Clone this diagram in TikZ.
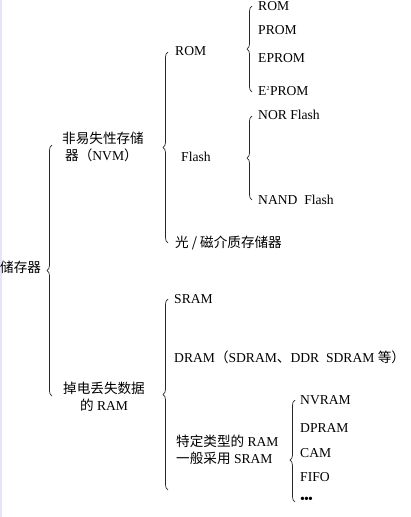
\documentclass[tikz,border=0pt]{standalone}
\usepackage{fontspec}
\setmainfont{Liberation Serif}
\newfontfamily\cjk{Noto Sans CJK SC}
\usetikzlibrary{decorations.pathreplacing}
\begin{document}
\begin{tikzpicture}[x=1pt,y=-1pt,
  lbl/.style={anchor=west,inner sep=0pt,font=\fontsize{13.6}{17}\selectfont},
  brc/.style={draw=black!85,line width=0.7pt,decorate,decoration={brace,amplitude=5pt}},
  brcb/.style={draw=black!85,line width=0.7pt,decorate,decoration={brace,amplitude=5pt,aspect=0.41}}]
\useasboundingbox (0,0) rectangle (411,517);
\fill[white] (0,0) rectangle (411,517);
\draw[draw=black!18!blue!10,line width=1.5pt] (0.75,0) -- (0.75,517);
% level 0
\node[lbl] (root) at (0,267) {\cjk 储存器};
% level 1
\node[lbl,align=left] (nvm) at (62,146.5) {{\cjk 非易失性存储}\\\hspace{3pt}{\cjk 器（}NVM{\cjk ）}};
\node[lbl,align=center] (ram) at (63,396.5) {{\cjk 掉电丢失数据}\\{\cjk 的} RAM};
% level 2 under NVM
\node[lbl] (rom) at (175,51) {ROM};
\node[lbl] (flash) at (181,157) {Flash};
\node[lbl] (opt) at (175,243) {{\cjk 光 / 磁介质存储器}};
% ROM children
\node[lbl] (rom1) at (258,6) {ROM};
\node[lbl] (prom) at (258,30.5) {PROM};
\node[lbl] (eprom) at (258,58) {EPROM};
\node[lbl] (e2prom) at (258,91) {E\textsuperscript{\fontsize{6}{6}\selectfont 2}PROM};
% Flash children
\node[lbl] (nor) at (258,115) {NOR Flash};
\node[lbl] (nand) at (258,200) {NAND\ \ Flash};
% level 2 under RAM
\node[lbl] (sram) at (174,299) {SRAM};
\node[lbl] (dram) at (174,357) {DRAM{\cjk （}SDRAM{\cjk 、}DDR\ \ SDRAM {\cjk 等）}};
\node[lbl,align=left] (spec) at (176,449.5) {{\cjk 特定类型的} RAM\\{\cjk 一般采用} SRAM};
% special RAM children
\node[lbl] (nvram) at (300,400) {NVRAM};
\node[lbl] (dpram) at (300,428) {DPRAM};
\node[lbl] (cam) at (300,453) {CAM};
\node[lbl] (fifo) at (300,477) {FIFO};
\node[lbl] (dots) at (300,500) {\fontsize{14}{14}\selectfont\textbullet\kern-1pt\textbullet\kern-1pt\textbullet};
% brace coordinates
\coordinate (b1s) at (52,396); \coordinate (b1e) at (52,145);
\coordinate (b2s) at (168,243); \coordinate (b2e) at (168,52);
\coordinate (b3s) at (252,92); \coordinate (b3e) at (252,6);
\coordinate (b4s) at (252,200); \coordinate (b4e) at (252,116);
\coordinate (b5s) at (168,490); \coordinate (b5e) at (168,299);
\coordinate (b6s) at (295,502); \coordinate (b6e) at (295,400);
\draw[brc] (b1s) -- (b1e);
\draw[brc] (b2s) -- (b2e);
\draw[brc] (b3s) -- (b3e);
\draw[brc] (b4s) -- (b4e);
\draw[brc] (b5s) -- (b5e);
\draw[brcb] (b6s) -- (b6e);
\end{tikzpicture}
\end{document}
